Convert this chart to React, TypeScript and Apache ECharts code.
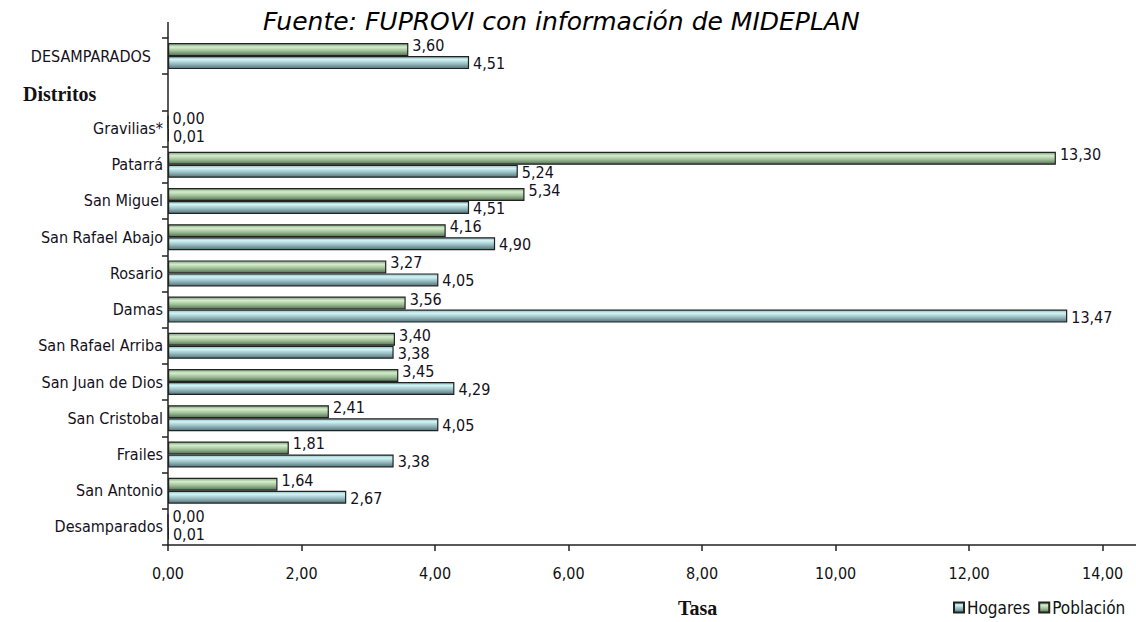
import React, { useEffect, useRef } from "react";
import * as echarts from "echarts";

const categories = [
  "Desamparados",
  "San Antonio",
  "Frailes",
  "San Cristobal",
  "San Juan de Dios",
  "San Rafael Arriba",
  "Damas",
  "Rosario",
  "San Rafael Abajo",
  "San Miguel",
  "Patarrá",
  "Gravilias*",
  "",
  "DESAMPARADOS",
];
const hogares = [0.01, 2.67, 3.38, 4.05, 4.29, 3.38, 13.47, 4.05, 4.9, 4.51, 5.24, 0.01, null, 4.51];
const poblacion = [0.0, 1.64, 1.81, 2.41, 3.45, 3.4, 3.56, 3.27, 4.16, 5.34, 13.3, 0.0, null, 3.6];
const xTicks = { min: 0, max: 14.5, interval: 2 };
const legendNames = ["Hogares", "Población"];
const titleText = "Fuente: FUPROVI con información de MIDEPLAN";
const yTitle = "Distritos";
const xTitle = "Tasa";

const fmt = (v: number) => v.toFixed(2).replace(".", ",");
const NARROW = "'DejaVu Sans Condensed', 'Liberation Sans', sans-serif";

export default function App() {
  const ref = useRef<HTMLDivElement>(null);
  useEffect(() => {
    if (!ref.current) return;
    const chart = echarts.init(ref.current, null, { renderer: "svg" });
    const greenGrad = new echarts.graphic.LinearGradient(0, 0, 0, 1, [
      { offset: 0, color: "#7f9f7c" },
      { offset: 0.28, color: "#d4eecc" },
      { offset: 0.6, color: "#a2c09a" },
      { offset: 1, color: "#527252" },
    ]);
    const blueGrad = new echarts.graphic.LinearGradient(0, 0, 0, 1, [
      { offset: 0, color: "#93b8bc" },
      { offset: 0.25, color: "#d2f6f6" },
      { offset: 0.6, color: "#98bcc0" },
      { offset: 1, color: "#52747a" },
    ]);
    const labelFont = {
      fontFamily: NARROW,
      fontSize: 16,
      color: "#151020",
    };
    chart.setOption({
      animation: false,
      backgroundColor: "#ffffff",
      title: {
        text: titleText,
        left: 258,
        top: 4,
        textStyle: {
          fontFamily: "DejaVu Sans",
          fontStyle: "italic",
          fontWeight: 200,
          fontSize: 25,
          color: "#000",
        },
      },
      legend: {
        data: legendNames,
        left: 948,
        top: 594,
        width: 400,
        itemWidth: 10,
        itemHeight: 10,
        itemGap: 8,
        icon: "rect",
        textStyle: { fontFamily: NARROW, fontSize: 17, color: "#111", padding: [0, 0, 0, -2] },
      },
      grid: { left: 168, right: 0, top: 38, bottom: 77, containLabel: false },
      xAxis: {
        type: "value",
        min: xTicks.min,
        max: xTicks.max,
        interval: xTicks.interval,
        splitLine: { show: false },
        axisLine: { show: true, lineStyle: { color: "#222", width: 1.5 } },
        axisTick: { show: true, length: 6, lineStyle: { color: "#222", width: 1.5 } },
        axisLabel: {
          showMaxLabel: false,
          margin: 20,
          fontFamily: NARROW,
          fontSize: 16,
          color: "#111",
          formatter: (v: number) => fmt(v),
        },
      },
      yAxis: {
        type: "category",
        data: categories,
        axisLine: { show: true, lineStyle: { color: "#222", width: 1.5 } },
        axisTick: { show: true, length: 6, lineStyle: { color: "#222", width: 1.5 } },
        axisLabel: {
          margin: 5,
          fontFamily: NARROW,
          fontSize: 16,
          color: "#151020",
          formatter: (v: string) => (v === "DESAMPARADOS" ? "{up|" + v + "}" : v),
          rich: {
            up: {
              fontFamily: NARROW,
              fontSize: 16,
              color: "#151020",
              padding: [0, 12, 0, 0],
            },
          },
        },
      },
      graphic: [
        {
          type: "line",
          shape: { x1: 168, y1: 22, x2: 168, y2: 38 },
          style: { stroke: "#222", lineWidth: 1.5 },
        },
        {
          type: "text",
          left: 23,
          top: 84,
          style: {
            text: yTitle,
            fontFamily: "Liberation Serif",
            fontWeight: "bold",
            fontSize: 20,
            fill: "#111",
          },
        },
        {
          type: "text",
          left: 678,
          top: 598,
          style: {
            text: xTitle,
            fontFamily: "Liberation Serif",
            fontWeight: "bold",
            fontSize: 20,
            fill: "#111",
          },
        },
      ],
      series: [
        {
          name: "Población",
          type: "bar",
          data: poblacion,
          barWidth: 13,
          barGap: "0%",
          itemStyle: { color: greenGrad, borderColor: "#222", borderWidth: 1.2 },
          label: {
            show: true,
            position: "right",
            distance: 4,
            offset: [0, -4],
            ...labelFont,
            formatter: (p: any) => (p.value == null ? "" : fmt(p.value)),
          },
        },
        {
          name: "Hogares",
          type: "bar",
          data: hogares,
          barWidth: 13,
          barGap: "0%",
          itemStyle: { color: blueGrad, borderColor: "#222", borderWidth: 1.2 },
          label: {
            show: true,
            position: "right",
            distance: 4,
            offset: [0, 1],
            ...labelFont,
            formatter: (p: any) => (p.value == null ? "" : fmt(p.value)),
          },
        },
      ],
    });
    return () => chart.dispose();
  }, []);
  return <div ref={ref} style={{ width: 1136, height: 622, position: "absolute", left: 0, top: 0 }} />;
}
